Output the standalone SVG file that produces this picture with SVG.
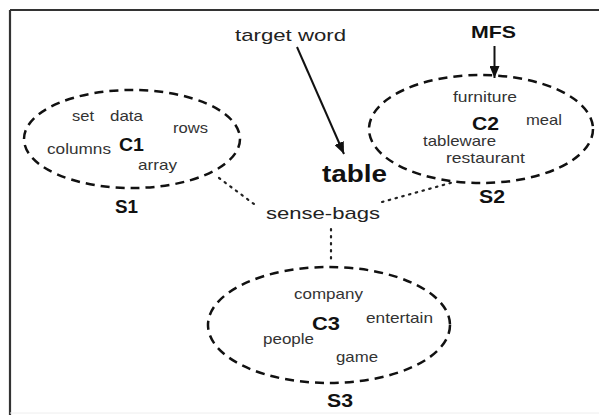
<svg xmlns="http://www.w3.org/2000/svg" width="599" height="415" viewBox="0 0 599 415">
<style>
.w{font-family:"Liberation Sans",Arial,sans-serif;font-size:15px;fill:#333}
.c{font-family:"Liberation Sans",Arial,sans-serif;font-size:18px;font-weight:bold;fill:#111}
.big{font-family:"Liberation Sans",Arial,sans-serif;font-size:17px;fill:#222}
.ell{fill:none;stroke:#111;stroke-width:2.5;stroke-dasharray:9 6}
.dot{fill:none;stroke:#222;stroke-width:2.2;stroke-dasharray:1.5 5.5;stroke-linecap:round}
.arr{fill:none;stroke:#111;stroke-width:2}
</style>
<defs>
<marker id="ah" viewBox="0 0 12 10" refX="12" refY="5" markerWidth="12" markerHeight="10" markerUnits="userSpaceOnUse" orient="auto">
<path d="M0,0 L12,5 L0,10 Z" fill="#111"/>
</marker>
</defs>
<rect x="0" y="0" width="599" height="415" fill="#fff"/>
<g id="frame">
<line x1="10" y1="10" x2="599" y2="10" stroke="#333" stroke-width="2.2"/>
<line x1="10" y1="10" x2="10" y2="415" stroke="#333" stroke-width="2.2"/>
<line x1="10" y1="413" x2="599" y2="413" stroke="#eee" stroke-width="1"/>
</g>
<g id="connectors">
<line class="arr" x1="297" y1="47" x2="344" y2="154" marker-end="url(#ah)"/>
<line class="arr" x1="494.5" y1="46" x2="494.5" y2="78" marker-end="url(#ah)"/>
<path class="dot" d="M219,178 L258,207"/>
<path class="dot" d="M382,202 L454,182"/>
<path class="dot" d="M331,229 L331,264"/>
</g>
<g id="target">
<text class="big" x="235" y="41" textLength="111" lengthAdjust="spacingAndGlyphs">target word</text>
</g>
<g id="table">
<text class="c" style="font-size:23px" x="322" y="182" textLength="65" lengthAdjust="spacingAndGlyphs">table</text>
</g>
<g id="mfs">
<text class="c" style="font-size:17px" x="471" y="38" textLength="45" lengthAdjust="spacingAndGlyphs">MFS</text>
</g>
<g id="sensebags">
<text class="big" x="266" y="219" textLength="114" lengthAdjust="spacingAndGlyphs">sense-bags</text>
</g>
<g id="S1">
<ellipse class="ell" cx="132" cy="139" rx="108" ry="49"/>
<text class="w" x="72" y="121" textLength="22" lengthAdjust="spacingAndGlyphs">set</text>
<text class="w" x="110" y="121" textLength="33" lengthAdjust="spacingAndGlyphs">data</text>
<text class="w" x="173" y="133" textLength="35" lengthAdjust="spacingAndGlyphs">rows</text>
<text class="w" x="47" y="154" textLength="64" lengthAdjust="spacingAndGlyphs">columns</text>
<text class="c" x="119" y="151" textLength="25" lengthAdjust="spacingAndGlyphs">C1</text>
<text class="w" x="138" y="170" textLength="39" lengthAdjust="spacingAndGlyphs">array</text>
<text class="c" x="115" y="213" textLength="23" lengthAdjust="spacingAndGlyphs">S1</text>
</g>
<g id="S2">
<ellipse class="ell" cx="481" cy="129" rx="112" ry="54"/>
<text class="w" x="453" y="102" textLength="64" lengthAdjust="spacingAndGlyphs">furniture</text>
<text class="c" x="472" y="130" textLength="27" lengthAdjust="spacingAndGlyphs">C2</text>
<text class="w" x="526" y="125" textLength="36" lengthAdjust="spacingAndGlyphs">meal</text>
<text class="w" x="423" y="146" textLength="73" lengthAdjust="spacingAndGlyphs">tableware</text>
<text class="w" x="446" y="163" textLength="79" lengthAdjust="spacingAndGlyphs">restaurant</text>
<text class="c" x="479" y="203" textLength="26" lengthAdjust="spacingAndGlyphs">S2</text>
</g>
<g id="S3">
<ellipse class="ell" cx="329" cy="325" rx="121" ry="58"/>
<text class="w" x="294" y="299" textLength="69" lengthAdjust="spacingAndGlyphs">company</text>
<text class="c" x="312" y="330" textLength="28" lengthAdjust="spacingAndGlyphs">C3</text>
<text class="w" x="366" y="323" textLength="67" lengthAdjust="spacingAndGlyphs">entertain</text>
<text class="w" x="263" y="344" textLength="51" lengthAdjust="spacingAndGlyphs">people</text>
<text class="w" x="336" y="362" textLength="42" lengthAdjust="spacingAndGlyphs">game</text>
<text class="c" x="327" y="407" textLength="26" lengthAdjust="spacingAndGlyphs">S3</text>
</g>
</svg>
